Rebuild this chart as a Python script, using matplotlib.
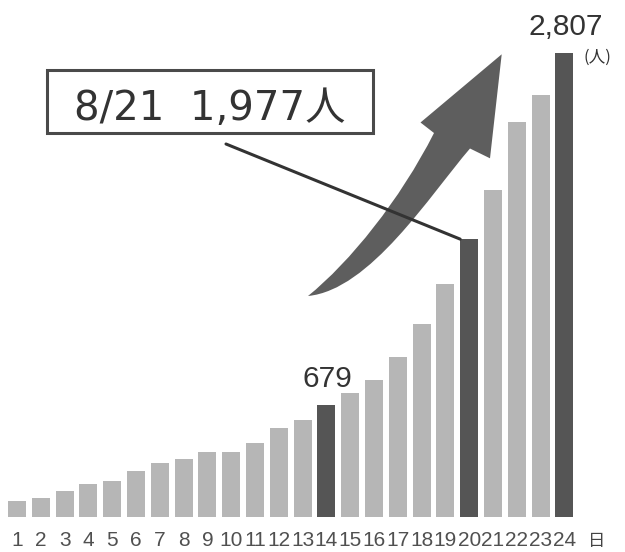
import matplotlib
matplotlib.use("Agg")
import matplotlib.pyplot as plt
from matplotlib.patches import PathPatch, Rectangle
from matplotlib.path import Path
from matplotlib.transforms import Affine2D

# daily counts (people), August 1-24
days = list(range(1, 25))
counts = [99, 117, 155, 201, 220, 280, 327, 353, 391, 395, 450, 537,
          585, 679, 752, 829, 970, 1168, 1410, 1680, 1977, 2386, 2553, 2807]
highlight = [14, 20, 24]
month = 8
callout_day = 21

light = "#b6b6b6"
dark = "#555555"
colors = [dark if d in highlight else light for d in days]

W, H = 625, 552
fig = plt.figure(figsize=(W / 100, H / 100), dpi=100)
fig.patch.set_facecolor("white")

# pixel coordinates measured from the top-left corner
px = Affine2D().scale(1 / W, -1 / H).translate(0, 1) + fig.transFigure

step = 23.8
first = 17
base = 35
per_px = 6.0457  # people per pixel
ax = fig.add_axes([0, base / H, 1, (H - base) / H])
ax.set_xlim(1 - first / step, 1 + (W - first) / step)
ax.set_ylim(0, per_px * (H - base))
ax.axis("off")

bw = 0.76
ax.bar(days, counts, width=bw, color=colors, zorder=2)

# day numbers under the bars
for d in days:
    ax.text(d, -29 * per_px, str(d), ha="center", va="baseline",
            fontsize=15, color="#505050",
            family=["Liberation Sans Narrow", "Liberation Sans"])
ax.text(597, 546, "日", transform=px, ha="center", va="baseline",
        fontsize=12.5, color="#444444", family=["Noto Sans CJK JP"])

# value labels on the highlighted days
for d in (14, 24):
    v = counts[d - 1]
    ax.annotate(f"{v:,}", xy=(d, v), xytext=(1, 18), textcoords="offset pixels",
                ha="center", va="baseline", fontsize=21.5, color="#333333",
                family=["Liberation Sans", "DejaVu Sans"])
ax.text(597, 57, "(人)", transform=px, ha="center", va="center",
        fontsize=12, color="#333333", family=["Noto Sans CJK JP"])

# rising arrow: head is straight-edged, shaft edges are cubic curves
verts = [(501.7, 54.3), (490, 158.3), (470, 148.5),
         (430, 195), (370, 290), (308, 296),
         (350, 262), (400, 200), (434, 133),
         (420.5, 122.5), (501.7, 54.3)]
codes = [Path.MOVETO, Path.LINETO, Path.LINETO,
         Path.CURVE4, Path.CURVE4, Path.CURVE4,
         Path.CURVE4, Path.CURVE4, Path.CURVE4,
         Path.LINETO, Path.CLOSEPOLY]
ax.add_patch(PathPatch(Path(verts, codes), transform=px, fc="#5e5e5e",
                       ec="none", zorder=1))

# callout box pointing at day 20
ax.add_patch(Rectangle((47, 70), 326, 63, transform=px, fill=False,
                       lw=2.2, ec="#4a4a4a", zorder=3))
ax.text(210, 120, f"{month}/{callout_day}  {counts[callout_day - 1]:,}人",
        transform=px, ha="center", va="baseline", fontsize=29, color="#333333",
        family=["DejaVu Sans", "Noto Sans CJK JP"], zorder=4)
ax.annotate("", xy=(20 - bw / 2, counts[19]), xycoords="data",
            xytext=(226, 144), textcoords=px,
            arrowprops=dict(arrowstyle="-", lw=2.2, color="#333333",
                            shrinkA=0, shrinkB=0), zorder=3)

fig.savefig("out.png", dpi=100, facecolor="white")
